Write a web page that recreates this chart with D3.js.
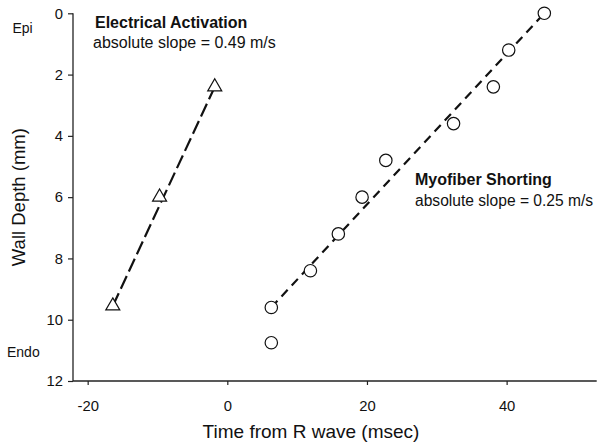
<!DOCTYPE html>
<html>
<head>
<meta charset="utf-8">
<script src="https://cdn.jsdelivr.net/npm/d3@7"></script>
<style>
  html, body { margin: 0; padding: 0; background: #fff; }
  svg { display: block; font-family: "Liberation Sans", Arial, Helvetica, sans-serif; }
</style>
</head>
<body>
<svg id="chart" width="604" height="447"></svg>
<script>
// ---- data ----
const triTime  = [-16.4, -9.7, -1.8];
const triDepth = [9.55, 6.0, 2.4];
const circTime  = [6.3, 6.3, 11.9, 15.9, 19.3, 22.7, 32.4, 38.1, 40.3, 45.4];
const circDepth = [10.75, 9.6, 8.4, 7.2, 6.0, 4.8, 3.6, 2.4, 1.2, 0.0];
const triFitTime  = [-16.4, -1.8];
const triFitDepth = [9.55, 2.4];
const circFitTime  = [6.3, 45.4];
const circFitDepth = [9.6, 0.0];
const xTicks = [-20, 0, 20, 40];
const yTicks = [0, 2, 4, 6, 8, 10, 12];
const xTitle = "Time from R wave (msec)";
const yTitle = "Wall Depth (mm)";

// ---- layout ----
const svg = d3.select("#chart");
const x = d3.scaleLinear().domain([-22.1, 52.9]).range([73, 596.7]);
const y = d3.scaleLinear().domain([0, 12]).range([13.3, 381]);

// axes
const xAxis = d3.axisBottom(x).tickValues(xTicks).tickSize(4).tickPadding(15).tickFormat(d3.format("d"));
const gx = svg.append("g").attr("transform", `translate(0,${y(12)})`).call(xAxis);
const yAxis = d3.axisLeft(y).tickValues(yTicks).tickSize(5).tickPadding(5).tickFormat(d3.format("d"));
const gy = svg.append("g").attr("transform", `translate(${x.range()[0]},0)`).call(yAxis);

[gx, gy].forEach(g => {
  g.select(".domain").attr("stroke", "#222").attr("stroke-width", 1.3);
  g.selectAll(".tick line").attr("stroke", "#222").attr("stroke-width", 1.2);
  g.selectAll(".tick text").attr("fill", "#111").style("font-size", "14.8px")
    .style("font-family", '"Liberation Sans", Arial, sans-serif');
});
gx.select(".domain").attr("d", `M${x.range()[0]},0H${x.range()[1]}`);
gy.select(".domain").attr("d", `M0,${y(0)}V${y(12)}`);
gx.selectAll(".tick text").text(d => d < 0 ? "-" + Math.abs(d) : d);

// axis titles
svg.append("text").attr("x", 311).attr("y", 438).attr("text-anchor", "middle")
  .style("font-size", "19px").attr("fill", "#111").text(xTitle);
svg.append("text").attr("transform", `translate(25,${(y(0) + y(12)) / 2}) rotate(-90)`)
  .attr("text-anchor", "middle").style("font-size", "18.5px").attr("fill", "#111").text(yTitle);

// Epi / Endo
svg.append("text").attr("x", 12.5).attr("y", 33).style("font-size", "14px").attr("fill", "#111").text("Epi");
svg.append("text").attr("x", 7).attr("y", 356.5).style("font-size", "14px").attr("fill", "#111").text("Endo");

// annotations
svg.append("text").attr("x", 95).attr("y", 27.5).style("font-size", "16px").style("font-weight", "bold")
  .attr("fill", "#111").text("Electrical Activation");
svg.append("text").attr("x", 93).attr("y", 47.5).style("font-size", "16px")
  .attr("fill", "#111").text("absolute slope = 0.49 m/s");
svg.append("text").attr("x", 415).attr("y", 185).style("font-size", "16px").style("font-weight", "bold")
  .attr("fill", "#111").text("Myofiber Shorting");
svg.append("text").attr("x", 415).attr("y", 205.5).style("font-size", "15.6px")
  .attr("fill", "#111").text("absolute slope = 0.25 m/s");

// fit lines
const line = d3.line().x(d => x(d[0])).y(d => y(d[1]));
svg.append("path").datum(d3.zip(triFitTime, triFitDepth)).attr("d", line)
  .attr("fill", "none").attr("stroke", "#111").attr("stroke-width", 2.2)
  .attr("stroke-dasharray", "14,5");
svg.append("path").datum(d3.zip(circFitTime, circFitDepth)).attr("d", line)
  .attr("fill", "none").attr("stroke", "#111").attr("stroke-width", 2.2)
  .attr("stroke-dasharray", "9,6");

// markers
const tri = d3.symbol().type(d3.symbolTriangle).size(85);
svg.append("g").selectAll("path").data(d3.zip(triTime, triDepth)).join("path")
  .attr("d", tri).attr("transform", d => `translate(${x(d[0])},${y(d[1])})`)
  .attr("fill", "#fff").attr("stroke", "#111").attr("stroke-width", 1.2);
svg.append("g").selectAll("circle").data(d3.zip(circTime, circDepth)).join("circle")
  .attr("cx", d => x(d[0])).attr("cy", d => y(d[1])).attr("r", 6.2)
  .attr("fill", "#fff").attr("stroke", "#111").attr("stroke-width", 1.2);
</script>
</body>
</html>
